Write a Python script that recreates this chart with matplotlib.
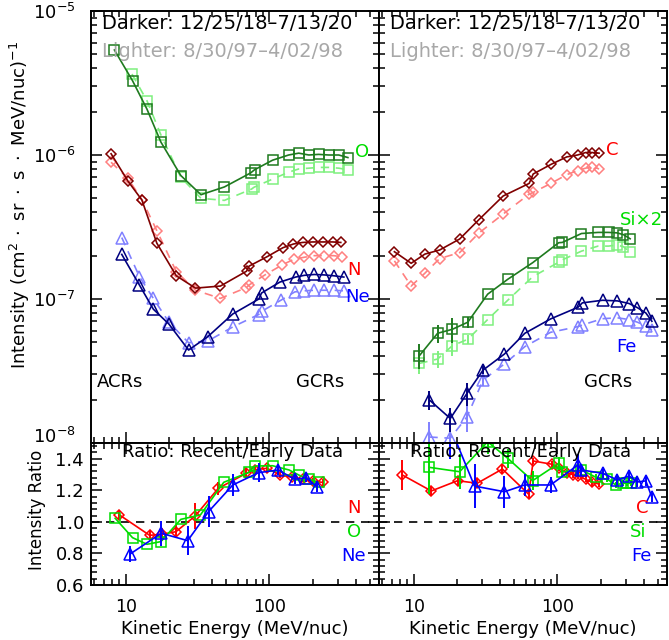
import matplotlib
matplotlib.use("Agg")
import matplotlib.pyplot as plt
import matplotlib.transforms as mtransforms
from matplotlib.ticker import LogLocator, NullFormatter, FixedLocator, AutoMinorLocator, FixedFormatter

plt.rcParams['font.family'] = ['DejaVu Sans']

# ---- top-left: O, N, Ne (dark = 2018-2020, light = 1997-98)
o_e_dark = [8.3, 11.1, 14.0, 17.5, 24.1, 33.3, 48.5, 73.8, 78.7, 105, 136, 160, 188, 220, 259, 304, 352]
o_i_dark = [5.36e-6, 3.28e-6, 2.08e-6, 1.23e-6, 7.2e-7, 5.3e-7, 6.0e-7, 7.5e-7, 7.9e-7, 9.2e-7, 1.0e-6, 1.03e-6, 1.0e-6, 1.01e-6, 1.0e-6, 1.0e-6, 9.6e-7]
o_e_light = [11.0, 14.0, 17.5, 24.1, 33.3, 48.5, 75, 78, 105, 136, 160, 188, 220, 259, 304, 352]
o_i_light = [3.65e-6, 2.38e-6, 1.38e-6, 7.0e-7, 5.0e-7, 4.84e-7, 5.8e-7, 5.97e-7, 6.8e-7, 7.6e-7, 8.0e-7, 8.1e-7, 8.2e-7, 8.2e-7, 8.1e-7, 7.9e-7]

n_e_dark = [7.87, 10.3, 12.9, 16.4, 22.4, 30.5, 45.5, 69.2, 72, 96.5, 124, 147, 170, 200, 235, 276, 314]
n_i_dark = [1.02e-6, 6.6e-7, 4.87e-7, 2.44e-7, 1.45e-7, 1.19e-7, 1.23e-7, 1.56e-7, 1.69e-7, 1.97e-7, 2.27e-7, 2.41e-7, 2.47e-7, 2.49e-7, 2.49e-7, 2.49e-7, 2.47e-7]
n_e_light = [7.87, 10.3, 12.9, 16.4, 22.4, 30.5, 45.5, 69, 72, 93, 122, 148, 175, 205, 240, 280, 318]
n_i_light = [8.9e-7, 6.9e-7, 4.9e-7, 2.98e-7, 1.55e-7, 1.15e-7, 1.01e-7, 1.2e-7, 1.25e-7, 1.47e-7, 1.72e-7, 1.89e-7, 1.95e-7, 2.0e-7, 2.0e-7, 2.0e-7, 1.97e-7]

ne_e_dark = [9.34, 12.4, 15.5, 19.9, 27.3, 37.1, 55.5, 84.3, 88, 118, 152, 175, 205, 240, 280, 330]
ne_i_dark = [2.04e-7, 1.25e-7, 8.5e-8, 6.7e-8, 4.42e-8, 5.47e-8, 7.87e-8, 1.0e-7, 1.1e-7, 1.31e-7, 1.42e-7, 1.46e-7, 1.48e-7, 1.47e-7, 1.45e-7, 1.42e-7]
ne_e_light = [9.34, 12.4, 15.5, 19.9, 27.3, 37.1, 56, 84, 88, 120, 150, 175, 205, 240, 280, 330]
ne_i_light = [2.67e-7, 1.43e-7, 1.01e-7, 6.9e-8, 4.97e-8, 5.1e-8, 6.43e-8, 7.8e-8, 8.2e-8, 9.8e-8, 1.12e-7, 1.14e-7, 1.15e-7, 1.15e-7, 1.15e-7, 1.14e-7]

# ---- top-right: C, Si x2, Fe
c_e = [7.3, 9.55, 11.9, 15.1, 20.8, 28.2, 41.8, 63.5, 67.7, 90, 116, 138, 157, 175, 195]
c_i_dark = [2.13e-7, 1.77e-7, 2.05e-7, 2.19e-7, 2.61e-7, 3.54e-7, 5.19e-7, 6.35e-7, 7.38e-7, 8.6e-7, 9.7e-7, 1.0e-6, 1.04e-6, 1.04e-6, 1.03e-6]
c_i_light = [1.84e-7, 1.23e-7, 1.51e-7, 1.91e-7, 2.1e-7, 2.86e-7, 3.89e-7, 5.35e-7, 5.5e-7, 6.35e-7, 7.3e-7, 7.8e-7, 8.1e-7, 8.3e-7, 8.0e-7]

si_e = [10.9, 14.6, 18.5, 23.7, 32.6, 45, 67.3, 102, 108, 147, 192, 227, 259, 288, 321]
si_i_dark = [4.04e-8, 5.78e-8, 6.16e-8, 6.9e-8, 1.08e-7, 1.37e-7, 1.79e-7, 2.46e-7, 2.47e-7, 2.85e-7, 2.9e-7, 2.9e-7, 2.88e-7, 2.8e-7, 2.62e-7]
si_err_dark = [0.8e-8, 0.8e-8, 1.2e-8, 0.6e-8, 0, 0, 0, 0, 0, 0, 0, 0, 0, 0, 0]
si_i_light = [3.57e-8, 3.83e-8, 4.74e-8, 5.25e-8, 7.2e-8, 9.8e-8, 1.43e-7, 1.8e-7, 1.87e-7, 2.15e-7, 2.33e-7, 2.33e-7, 2.37e-7, 2.31e-7, 2.11e-7]
si_err_light = [0.55e-8, 0.5e-8, 0.75e-8, 0.4e-8, 0, 0, 0, 0, 0, 0, 0, 0, 0, 0, 0]

fe_e = [12.8, 17.9, 23.4, 30.3, 42.7, 59.2, 89.5, 139, 149, 206, 262, 316, 361, 413, 455]
fe_i_dark = [1.99e-8, 1.48e-8, 2.21e-8, 3.21e-8, 4.15e-8, 5.78e-8, 7.27e-8, 8.76e-8, 9.4e-8, 9.8e-8, 9.7e-8, 9.3e-8, 8.7e-8, 8.0e-8, 7.0e-8]
fe_err_dark = [0.3e-8, 0.28e-8, 0.4e-8, 0.2e-8, 0, 0, 0, 0, 0, 0, 0, 0, 0, 0, 0]
fe_i_light = [1.1e-8, 1.08e-8, 1.52e-8, 2.74e-8, 3.54e-8, 4.67e-8, 5.87e-8, 6.43e-8, 6.6e-8, 7.3e-8, 7.4e-8, 7.2e-8, 6.9e-8, 6.5e-8, 6.1e-8]
fe_err_light = [0.3e-8, 0.3e-8, 0.33e-8, 0.25e-8, 0, 0, 0, 0, 0, 0, 0, 0, 0, 0, 0]

# ---- ratio panels (recent / early)
rn_e = [9.0, 14.6, 17.8, 22.3, 30.3, 44, 69, 79, 96, 119, 143, 170, 200, 235]
rn_r = [1.044, 0.915, 0.921, 0.938, 1.037, 1.213, 1.308, 1.33, 1.34, 1.297, 1.283, 1.27, 1.26, 1.25]
rn_err = [0.03, 0.03, 0.04, 0.04, 0.08, 0.04, 0.03, 0.03, 0.02, 0.02, 0.02, 0.02, 0.02, 0.02]
ro_e = [8.4, 11.1, 14.0, 17.5, 24.1, 33, 48, 72, 79, 105, 137, 160, 190, 220]
ro_r = [1.023, 0.90, 0.858, 0.875, 1.016, 1.044, 1.251, 1.314, 1.354, 1.356, 1.329, 1.297, 1.27, 1.25]
rne_e = [10.7, 17.6, 26.9, 37.6, 55.5, 84, 115, 150, 180, 215]
rne_r = [0.797, 0.928, 0.881, 1.065, 1.234, 1.312, 1.329, 1.27, 1.28, 1.22]
rne_err = [0.05, 0.08, 0.09, 0.1, 0.07, 0.06, 0.03, 0.03, 0.03, 0.03]

rc_e = [8.3, 13.2, 20.1, 27.6, 41.3, 63, 67.7, 92, 102, 116, 128, 140, 157, 175, 195]
rc_r = [1.297, 1.196, 1.261, 1.245, 1.335, 1.175, 1.386, 1.365, 1.34, 1.31, 1.30, 1.29, 1.27, 1.25, 1.24]
rc_err = [0.095, 0.03, 0.03, 0.03, 0.03, 0.03, 0.02, 0.02, 0.02, 0.02, 0.02, 0.02, 0.02, 0.02, 0.02]
rsi_e = [12.7, 20.8, 32.6, 45, 67, 102, 108, 147, 185, 223, 255, 284, 307, 324]
rsi_r = [1.346, 1.318, 1.508, 1.403, 1.261, 1.371, 1.318, 1.329, 1.283, 1.27, 1.234, 1.245, 1.245, 1.245]
rsi_err = [0.17, 0.11, 0.08, 0.06, 0.06, 0.04, 0.03, 0.03, 0.02, 0.02, 0.02, 0.02, 0.02, 0.02]
rfe_e = [12.8, 17.9, 26.4, 42.7, 59, 89.5, 139, 147, 206, 262, 316, 361, 413, 455]
rfe_r = [1.9, 1.6, 1.227, 1.191, 1.234, 1.234, 1.361, 1.329, 1.308, 1.266, 1.291, 1.253, 1.26, 1.156]
rfe_err = [0.3, 0.2, 0.14, 0.1, 0.07, 0.05, 0.07, 0.04, 0.03, 0.03, 0.03, 0.03, 0.03, 0.03]

DKGREEN, LTGREEN = '#1e7a1e', '#7ff07f'
DKRED, LTRED = '#800000', '#ff8080'
DKBLUE, LTBLUE = '#000080', '#8080ff'
RED, GREEN, BLUE = '#ff0000', '#00dd00', '#0000ff'

W, H = 669, 640
fig = plt.figure(figsize=(W / 100, H / 100), dpi=100)

def box(x0, y0, x1, y1):
    return [x0 / W, 1 - y1 / H, (x1 - x0) / W, (y1 - y0) / H]

ax_tl = fig.add_axes(box(91, 11, 379, 443))
ax_tr = fig.add_axes(box(379, 11, 667, 443))
ax_bl = fig.add_axes(box(91, 443, 379, 585))
ax_br = fig.add_axes(box(379, 443, 667, 585))

XMIN, XMAX = 5.7, 580

def style(ax, log_y):
    ax.set_xscale('log')
    ax.set_xlim(XMIN, XMAX)
    ax.xaxis.set_major_locator(FixedLocator([10, 100]))
    ax.xaxis.set_minor_locator(LogLocator(base=10, subs=range(2, 10)))
    ax.xaxis.set_minor_formatter(NullFormatter())
    if log_y:
        ax.set_yscale('log')
        ax.set_ylim(1e-8, 1e-5)
        ax.yaxis.set_minor_locator(LogLocator(base=10, subs=range(2, 10)))
        ax.yaxis.set_minor_formatter(NullFormatter())
    else:
        ax.set_ylim(0.6, 1.5)
        ax.yaxis.set_major_locator(FixedLocator([0.6, 0.8, 1.0, 1.2, 1.4]))
        ax.yaxis.set_minor_locator(AutoMinorLocator(5))
    ax.tick_params(which='both', direction='in', top=True, right=True, width=1.1)
    ax.tick_params(which='major', length=8)
    ax.tick_params(which='minor', length=4)
    for s in ax.spines.values():
        s.set_linewidth(1.4)

for ax in (ax_tl, ax_tr):
    style(ax, True)
    ax.tick_params(labelbottom=False)
for ax in (ax_bl, ax_br):
    style(ax, False)
ax_tr.tick_params(labelleft=False)
ax_br.tick_params(labelleft=False)
ax_tl.yaxis.set_major_locator(FixedLocator([1e-8, 1e-7, 1e-6, 1e-5]))
ax_tl.yaxis.set_major_formatter(FixedFormatter([r'$10^{-8}$', r'$10^{-7}$', r'$10^{-6}$', r'$10^{-5}$']))
ax_tr.yaxis.set_major_locator(FixedLocator([1e-8, 1e-7, 1e-6, 1e-5]))
ax_tl.tick_params(axis='y', labelsize=13, pad=11)
ax_bl.tick_params(axis='y', labelsize=13, pad=5)
for ax in (ax_bl, ax_br):
    ax.tick_params(axis='x', labelsize=12.5, pad=9)
ax_bl.xaxis.set_major_formatter(FixedFormatter(['10', '100']))
ax_br.xaxis.set_major_formatter(FixedFormatter(['10', '100']))


def series(ax, e, i, color, marker, ms, dashed, err=None):
    ls = (0, (5, 4)) if dashed else '-'
    ax.plot(e, i, color=color, ls=ls, lw=1.2, marker=marker, ms=ms,
            mfc='none', mec=color, mew=1.1, clip_on=True)
    if err is not None:
        ax.errorbar(e, i, yerr=err, fmt='none', ecolor=color, elinewidth=1.4, capsize=0)


# top-left
series(ax_tl, o_e_light, o_i_light, LTGREEN, 's', 7.5, True)
series(ax_tl, n_e_light, n_i_light, LTRED, 'D', 5, True)
series(ax_tl, ne_e_light, ne_i_light, LTBLUE, '^', 8, True)
series(ax_tl, o_e_dark, o_i_dark, DKGREEN, 's', 7.5, False)
series(ax_tl, n_e_dark, n_i_dark, DKRED, 'D', 5, False)
series(ax_tl, ne_e_dark, ne_i_dark, DKBLUE, '^', 8, False)

# top-right
series(ax_tr, c_e, c_i_light, LTRED, 'D', 5, True)
series(ax_tr, si_e, si_i_light, LTGREEN, 's', 7.5, True, si_err_light)
series(ax_tr, fe_e, fe_i_light, LTBLUE, '^', 8, True, fe_err_light)
series(ax_tr, c_e, c_i_dark, DKRED, 'D', 5, False)
series(ax_tr, si_e, si_i_dark, DKGREEN, 's', 7.5, False, si_err_dark)
series(ax_tr, fe_e, fe_i_dark, DKBLUE, '^', 8, False, fe_err_dark)

# ratio panels
for ax in (ax_bl, ax_br):
    ax.axhline(1.0, color='black', ls=(0, (5, 4)), lw=1.2)
series(ax_bl, rn_e, rn_r, RED, 'D', 5, False, rn_err)
series(ax_bl, ro_e, ro_r, GREEN, 's', 7, False)
series(ax_bl, rne_e, rne_r, BLUE, '^', 8, False, rne_err)
series(ax_br, rc_e, rc_r, RED, 'D', 5, False, rc_err)
series(ax_br, rsi_e, rsi_r, GREEN, 's', 7, False, rsi_err)
series(ax_br, rfe_e, rfe_r, BLUE, '^', 8, False, rfe_err)

FS = 13
HFS = 14
for ax in (ax_tl, ax_tr):
    ax.text(0.038, 0.970, 'Darker: 12/25/18\u20137/13/20', transform=ax.transAxes,
            fontsize=HFS, va='center', ha='left', color='black')
    ax.text(0.038, 0.907, 'Lighter: 8/30/97\u20134/02/98', transform=ax.transAxes,
            fontsize=HFS, va='center', ha='left', color='#a8a8a8')
    ax.text(0.795, 0.141, 'GCRs', transform=ax.transAxes, fontsize=FS, ha='center', va='center')

ax_tl.text(0.10, 0.141, 'ACRs', transform=ax_tl.transAxes, fontsize=FS, ha='center', va='center')
ax_tl.text(0.941, 0.674, 'O', transform=ax_tl.transAxes, fontsize=FS, ha='center', va='center', color=GREEN)
ax_tl.text(0.913, 0.400, 'N', transform=ax_tl.transAxes, fontsize=FS, ha='center', va='center', color=RED)
ax_tl.text(0.924, 0.338, 'Ne', transform=ax_tl.transAxes, fontsize=FS, ha='center', va='center', color=BLUE)
ax_tr.text(0.809, 0.678, 'C', transform=ax_tr.transAxes, fontsize=FS, ha='center', va='center', color=RED)
ax_tr.text(0.910, 0.516, 'Si\u00d72', transform=ax_tr.transAxes, fontsize=FS, ha='center', va='center', color=GREEN)
ax_tr.text(0.858, 0.222, 'Fe', transform=ax_tr.transAxes, fontsize=FS, ha='center', va='center', color=BLUE)

for ax in (ax_bl, ax_br):
    ax.text(0.108, 0.937, 'Ratio: Recent/Early Data', transform=ax.transAxes,
            fontsize=FS, ha='left', va='center')
    ax.set_xlabel('Kinetic Energy (MeV/nuc)', fontsize=FS, labelpad=3)
ax_bl.text(0.913, 0.542, 'N', transform=ax_bl.transAxes, fontsize=FS, ha='center', va='center', color=RED)
ax_bl.text(0.913, 0.373, 'O', transform=ax_bl.transAxes, fontsize=FS, ha='center', va='center', color=GREEN)
ax_bl.text(0.913, 0.204, 'Ne', transform=ax_bl.transAxes, fontsize=FS, ha='center', va='center', color=BLUE)
ax_br.text(0.913, 0.542, 'C', transform=ax_br.transAxes, fontsize=FS, ha='center', va='center', color=RED)
ax_br.text(0.899, 0.373, 'Si', transform=ax_br.transAxes, fontsize=FS, ha='center', va='center', color=GREEN)
ax_br.text(0.910, 0.204, 'Fe', transform=ax_br.transAxes, fontsize=FS, ha='center', va='center', color=BLUE)

fig.text(20 / W, 1 - 205 / H,
         r'Intensity (cm$^{2}\!\ \cdot\ $sr$\ \cdot\ $s$\ \cdot\ $MeV/nuc)$^{-1}$',
         rotation=90, fontsize=13, ha='center', va='center')
fig.text(37 / W, 1 - 510 / H, 'Intensity Ratio', rotation=90, fontsize=12, ha='center', va='center')

# lift the lowest decade label so it clears the ratio panel's 1.4 label
fig.canvas.draw()
lift = mtransforms.ScaledTranslation(0, 6 / 72, fig.dpi_scale_trans)
for tick in ax_tl.yaxis.get_major_ticks():
    if abs(tick.get_loc() - 1e-8) < 1e-12:
        tick.label1.set_transform(tick.label1.get_transform() + lift)

fig.savefig('out.png', dpi=100)
